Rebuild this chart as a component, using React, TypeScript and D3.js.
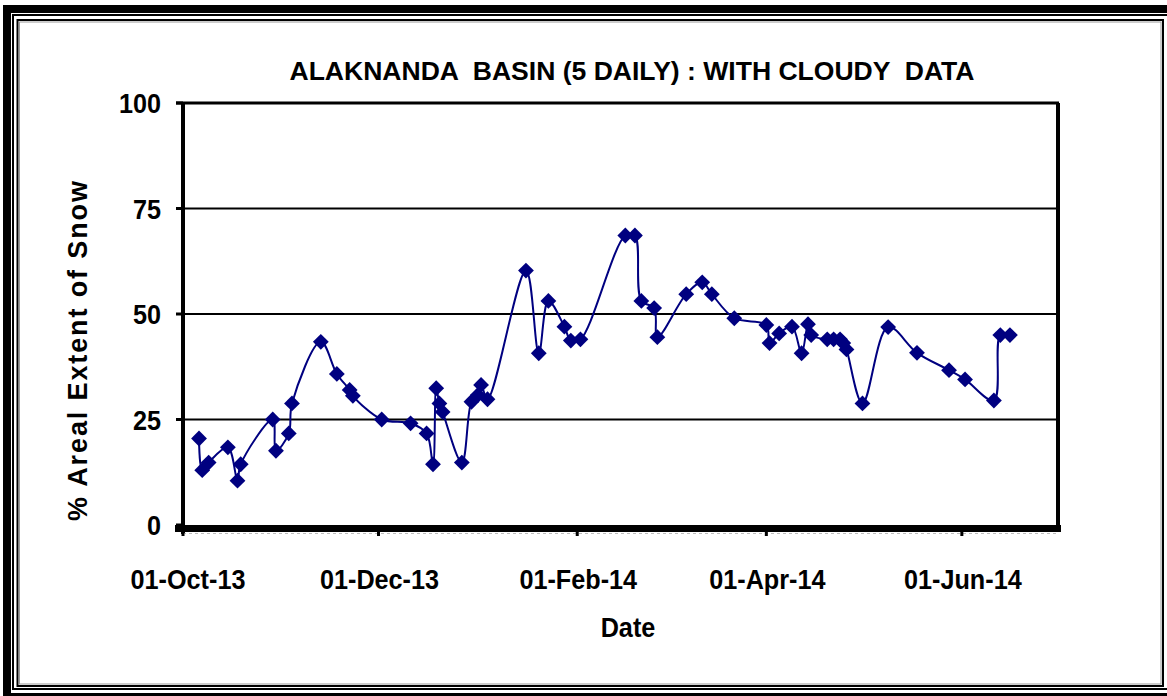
import React, { useEffect, useRef } from 'react'
import * as d3 from 'd3'

// 5-daily snow cover readings (% of basin area)
const dates = [
    '2013-10-06', '2013-10-07', '2013-10-09', '2013-10-15', '2013-10-18', '2013-10-19',
    '2013-10-29', '2013-10-30', '2013-11-03', '2013-11-04', '2013-11-13', '2013-11-18',
    '2013-11-22', '2013-11-23', '2013-12-02', '2013-12-11', '2013-12-16', '2013-12-18',
    '2013-12-19', '2013-12-20', '2013-12-21', '2013-12-27', '2013-12-30', '2014-01-01',
    '2014-01-02', '2014-01-04', '2014-01-16', '2014-01-20', '2014-01-23', '2014-01-28',
    '2014-01-30', '2014-02-02', '2014-02-16', '2014-02-19', '2014-02-21', '2014-02-25',
    '2014-02-26', '2014-03-07', '2014-03-12', '2014-03-15', '2014-03-22', '2014-04-01',
    '2014-04-02', '2014-04-05', '2014-04-09', '2014-04-12', '2014-04-14', '2014-04-15',
    '2014-04-20', '2014-04-22', '2014-04-24', '2014-04-25', '2014-04-26', '2014-05-01',
    '2014-05-09', '2014-05-18', '2014-05-28', '2014-06-02', '2014-06-11', '2014-06-13',
    '2014-06-16'
]

const snowCover = [
    20.5, 13.0, 14.8, 18.4, 10.5, 14.4,
    25.0, 17.6, 21.7, 28.8, 43.4, 35.8,
    32.0, 30.6, 25.0, 24.1, 21.7, 14.4,
    32.4, 28.8, 26.8, 14.8, 29.2, 30.8,
    33.2, 29.8, 60.3, 40.7, 53.1, 47.0,
    43.7, 44.0, 68.6, 68.6, 53.1, 51.4,
    44.5, 54.7, 57.5, 54.7, 49.0, 47.4,
    43.1, 45.4, 47.0, 40.7, 47.6, 45.0,
    44.0, 44.0, 44.0, 43.1, 41.6, 28.8,
    46.9, 40.8, 36.7, 34.5, 29.5, 45.0,
    45.0
]

const xTicks = ['2013-10-01', '2013-12-01', '2014-02-01', '2014-04-01', '2014-06-01']
const xDomain = ['2013-10-01', '2014-07-01']
const yTicks = [0, 25, 50, 75, 100]

const title = 'ALAKNANDA  BASIN (5 DAILY) : WITH CLOUDY  DATA'
const yLabel = '% Areal Extent of Snow'
const xLabel = 'Date'

const W = 1167
const H = 696
const plot = { left: 183, right: 1058, top: 103, bottom: 525 }
const navy = '#000080'
const font = '"Liberation Sans", Arial, sans-serif'
const condense = 0.9

function SnowChart() {
    const ref = useRef<SVGSVGElement | null>(null)

    useEffect(() => {
        const svg = d3.select(ref.current)
        svg.selectAll('*').remove()

        const parse = d3.utcParse('%Y-%m-%d')
        const fmt = d3.utcFormat('%d-%b-%y')

        const x = d3.scaleUtc()
            .domain(xDomain.map(d => parse(d) as Date))
            .range([plot.left, plot.right])

        const y = d3.scaleLinear()
            .domain([0, 100])
            .range([plot.bottom, plot.top])

        const data = dates.map((d, i) => ({ date: parse(d) as Date, v: snowCover[i] }))

        // squeeze labels a bit, the original font is narrower than Arial
        const narrow = (sel: any) => sel.each(function (this: SVGTextElement) {
            const w = this.getComputedTextLength()
            this.setAttribute('textLength', String(w * condense))
            this.setAttribute('lengthAdjust', 'spacingAndGlyphs')
        })

        svg.append('rect').attr('width', W).attr('height', H).attr('fill', '#fff')

        // page frame (thick outer + two thin inner lines)
        svg.append('rect')
            .attr('x', 7).attr('y', 9).attr('width', 1200).attr('height', 688)
            .attr('fill', 'none').attr('stroke', '#000').attr('stroke-width', 8)
        svg.append('rect')
            .attr('x', 13).attr('y', 15).attr('width', 1200).attr('height', 674)
            .attr('fill', 'none').attr('stroke', '#000').attr('stroke-width', 2)
        svg.append('rect')
            .attr('x', 17.5).attr('y', 20).attr('width', 1145.5).attr('height', 666)
            .attr('fill', 'none').attr('stroke', '#000').attr('stroke-width', 2)
        svg.append('rect')
            .attr('x', 19.5).attr('y', 22).attr('width', 1141.5).attr('height', 662)
            .attr('fill', 'none').attr('stroke', '#999').attr('stroke-width', 1)

        // gridlines
        svg.append('g')
            .selectAll('line')
            .data(yTicks.filter(t => t > 0 && t < 100))
            .join('line')
            .attr('x1', plot.left).attr('x2', plot.right)
            .attr('y1', d => y(d)).attr('y2', d => y(d))
            .attr('stroke', '#000').attr('stroke-width', 2)

        // plot border
        svg.append('line')
            .attr('x1', plot.left - 7).attr('x2', plot.right + 1)
            .attr('y1', plot.top).attr('y2', plot.top)
            .attr('stroke', '#000').attr('stroke-width', 3)
        svg.append('line')
            .attr('x1', plot.right).attr('x2', plot.right)
            .attr('y1', plot.top).attr('y2', plot.bottom + 4)
            .attr('stroke', '#000').attr('stroke-width', 4)
        svg.append('line')
            .attr('x1', plot.left).attr('x2', plot.left)
            .attr('y1', plot.top).attr('y2', plot.bottom + 9)
            .attr('stroke', '#000').attr('stroke-width', 4)

        // y ticks
        svg.append('g')
            .selectAll('line')
            .data(yTicks)
            .join('line')
            .attr('x1', plot.left - 7).attr('x2', plot.left)
            .attr('y1', d => y(d)).attr('y2', d => y(d))
            .attr('stroke', '#000').attr('stroke-width', 3)

        svg.append('g')
            .selectAll('text')
            .data(yTicks)
            .join('text')
            .attr('x', 161)
            .attr('y', d => y(d))
            .attr('dy', '0.36em')
            .attr('text-anchor', 'end')
            .attr('font-family', font)
            .attr('font-weight', 'bold')
            .attr('font-size', 28)
            .text(d => d)
            .call(narrow)

        // x axis (thick)
        svg.append('rect')
            .attr('x', plot.left - 8).attr('y', plot.bottom)
            .attr('width', plot.right - plot.left + 11).attr('height', 7)
            .attr('fill', '#000')
        svg.append('line')
            .attr('x1', plot.left).attr('x2', plot.right)
            .attr('y1', plot.bottom + 8.5).attr('y2', plot.bottom + 8.5)
            .attr('stroke', '#bbb').attr('stroke-width', 1)
            .attr('stroke-dasharray', '3,3')

        svg.append('g')
            .selectAll('line')
            .data(xTicks)
            .join('line')
            .attr('x1', d => x(parse(d) as Date)).attr('x2', d => x(parse(d) as Date))
            .attr('y1', plot.bottom + 6).attr('y2', plot.bottom + 11)
            .attr('stroke', '#000').attr('stroke-width', 3)

        svg.append('g')
            .selectAll('text')
            .data(xTicks)
            .join('text')
            .attr('x', (d, i) => x(parse(d) as Date) + (i === 0 ? 5 : 1))
            .attr('y', 589)
            .attr('text-anchor', 'middle')
            .attr('font-family', font)
            .attr('font-weight', 'bold')
            .attr('font-size', 28)
            .text(d => fmt(parse(d) as Date))
            .call(narrow)

        // series
        const line = d3.line<{ date: Date, v: number }>()
            .x(d => x(d.date))
            .y(d => y(d.v))
            .curve(d3.curveCatmullRom.alpha(0.5))

        svg.append('path')
            .datum(data)
            .attr('d', line)
            .attr('fill', 'none')
            .attr('stroke', navy)
            .attr('stroke-width', 2)

        const diamond = d3.symbol(d3.symbolSquare, 125)
        svg.append('g')
            .selectAll('path')
            .data(data)
            .join('path')
            .attr('d', diamond)
            .attr('transform', d => `translate(${x(d.date)},${y(d.v)}) rotate(45)`)
            .attr('fill', navy)

        // titles
        svg.append('text')
            .attr('x', 632).attr('y', 80)
            .attr('text-anchor', 'middle')
            .attr('font-family', font)
            .attr('font-weight', 'bold')
            .attr('font-size', 26)
            .attr('textLength', 685)
            .attr('lengthAdjust', 'spacingAndGlyphs')
            .style('white-space', 'pre')
            .text(title)

        svg.append('text')
            .attr('transform', 'translate(87,351) rotate(-90)')
            .attr('text-anchor', 'middle')
            .attr('font-family', font)
            .attr('font-weight', 'bold')
            .attr('font-size', 27)
            .attr('textLength', 340)
            .attr('lengthAdjust', 'spacing')
            .text(yLabel)

        svg.append('text')
            .attr('x', 628).attr('y', 637)
            .attr('text-anchor', 'middle')
            .attr('font-family', font)
            .attr('font-weight', 'bold')
            .attr('font-size', 28)
            .text(xLabel)
            .call(narrow)
    }, [])

    return (
        <svg ref={ref} width={W} height={H}
            style={{ position: 'absolute', left: 0, top: 0, display: 'block' }} />
    )
}

export default function App() {
    return <SnowChart />
}
